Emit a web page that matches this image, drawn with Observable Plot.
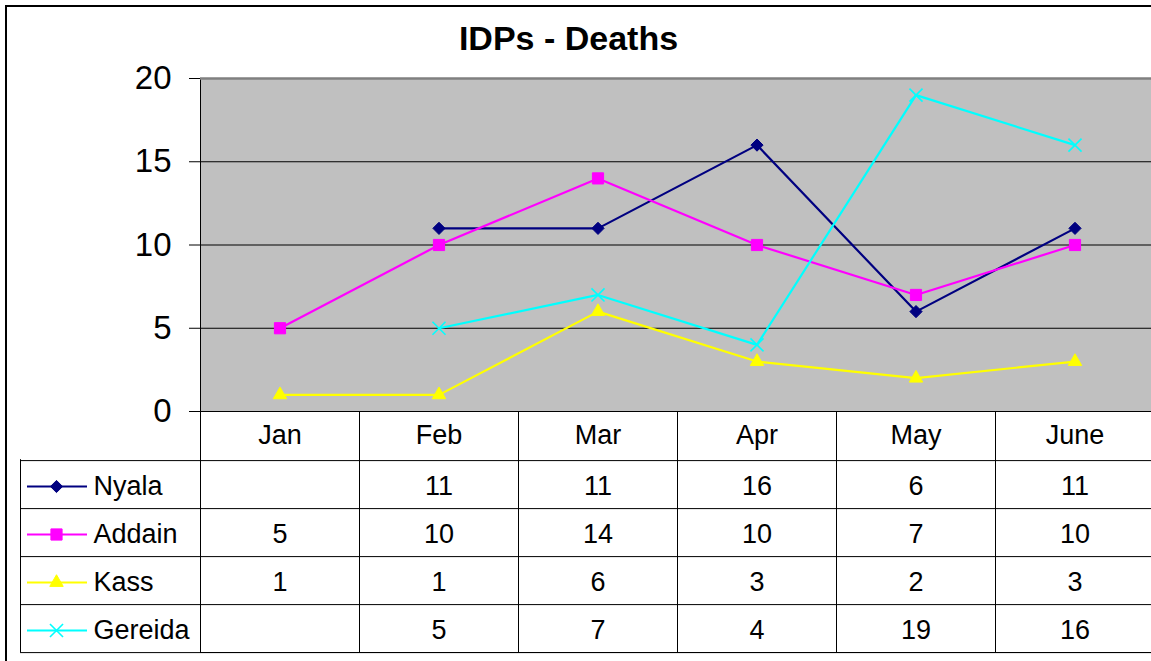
<!DOCTYPE html>
<html>
<head>
<meta charset="utf-8">
<script src="https://cdn.jsdelivr.net/npm/d3@7"></script>
<script src="https://cdn.jsdelivr.net/npm/@observablehq/plot@0.6"></script>
<style>
  html, body { margin: 0; padding: 0; background: #fff; overflow: hidden; }
  #wrap { position: relative; width: 1151px; height: 661px; overflow: hidden; font-family: "Liberation Sans", Arial, sans-serif; background: #fff; }
  #border { position: absolute; left: 5px; top: 5px; width: 1300px; height: 800px; border-left: 2px solid #000; border-top: 2px solid #000; box-sizing: border-box; }
  #title { position: absolute; left: 0; top: 21px; width: 1137px; text-align: center; font-weight: bold; font-size: 34px; line-height: 34px; color: #000; }
  #chart { position: absolute; left: 0; top: 0; }
  #table { position: absolute; left: 0; top: 411px; }
</style>
</head>
<body>
<div id="wrap">
  <div id="border"></div>
  <div id="title">IDPs - Deaths</div>
  <div id="chart"></div>
  <div id="table"></div>
</div>
<script>
// ---- data ----
const months = ["Jan", "Feb", "Mar", "Apr", "May", "June"];
const seriesNames = ["Nyala", "Addain", "Kass", "Gereida"];
const nyala   = [null, 11, 11, 16, 6, 11];
const addain  = [5, 10, 14, 10, 7, 10];
const kass    = [1, 1, 6, 3, 2, 3];
const gereida = [null, 5, 7, 4, 19, 16];
const yTicks  = [0, 5, 10, 15, 20];
const colors  = ["#000080", "#FF00FF", "#FFFF00", "#00FFFF"];
const symbols = ["diamond2", "square", "triangle", "times"];

// ---- derived table ----
const seriesValues = [nyala, addain, kass, gereida];
const rows = seriesNames.flatMap((s, si) =>
  months.map((m, mi) => ({series: s, month: m, value: seriesValues[si][mi]})));

const radii = [5.5, 6.3, 5, 6];
const FONT = "Liberation Sans, Arial, sans-serif";
const W = 1154, ML = 200;
const colW = (W - ML) / months.length;
const TFS = 27;

// ---- chart ----
const chartMarks = [
  Plot.frame({fill: "#C0C0C0", stroke: "#000"}),
  Plot.gridY(yTicks.filter(t => t > 0 && t < 20), {stroke: "#000", strokeOpacity: 1}),
  Plot.ruleY([yTicks[yTicks.length - 1]], {stroke: "#808080", strokeWidth: 2.5}),
  Plot.ruleY([0], {stroke: "#000"}),
  Plot.axisY(yTicks, {tickSize: 11, tickPadding: 18, fontSize: 33, label: null, stroke: "#000", fill: "#000"})
];
seriesNames.forEach((s, i) => {
  const data = rows.filter(d => d.series === s);
  chartMarks.push(Plot.line(data, {x: "month", y: "value", stroke: colors[i], strokeWidth: 2.2}));
  chartMarks.push(Plot.dot(data.filter(d => d.value != null), {
    x: "month", y: "value", symbol: symbols[i], r: radii[i],
    fill: symbols[i] === "times" ? "none" : colors[i],
    stroke: colors[i], strokeWidth: symbols[i] === "times" ? 1.6 : 1
  }));
});

const chart = Plot.plot({
  width: W, height: 412,
  marginTop: 78, marginBottom: 1, marginLeft: ML, marginRight: 0,
  style: {fontFamily: FONT, background: "transparent", overflow: "visible", maxWidth: "none", color: "#000"},
  x: {type: "band", domain: months, padding: 0, axis: null},
  y: {domain: [0, 20], axis: null},
  marks: chartMarks
});
document.getElementById("chart").appendChild(chart);

// ---- data table ----
const header = "";
const TH = 241, TB = 9;
const bandH = TH / (seriesNames.length + 1);
const tableMarks = [
  Plot.frame({stroke: "#000"}),
  Plot.ruleY([header, ...seriesNames], {y: d => d, dy: bandH / 2, insetLeft: -180, stroke: "#000"}),
  Plot.ruleX(months, {x: d => d, dx: -colW / 2, stroke: "#000"}),
  Plot.ruleX([months[0]], {x: d => d, dx: -colW / 2 - 180, insetTop: bandH, stroke: "#000"}),
  Plot.text(months, {x: d => d, y: () => header, text: d => d, fontSize: TFS, fill: "#000", dy: -1}),
  Plot.text(rows.filter(d => d.value != null), {x: "month", y: "series", text: d => String(d.value), fontSize: TFS, fill: "#000", dy: 2})
];
seriesNames.forEach((s, i) => {
  tableMarks.push(Plot.ruleY([s], {y: d => d, dy: 2, insetLeft: -173, insetRight: W - 87, stroke: colors[i], strokeWidth: 2}));
  tableMarks.push(Plot.dot([s], {
    y: d => d, frameAnchor: "left", dx: -144, dy: 2, symbol: symbols[i], r: radii[i],
    fill: symbols[i] === "times" ? "none" : colors[i],
    stroke: colors[i], strokeWidth: symbols[i] === "times" ? 1.6 : 1
  }));
  tableMarks.push(Plot.text([s], {y: d => d, frameAnchor: "left", dx: -107, dy: 2, textAnchor: "start", text: d => d, fontSize: TFS, fill: "#000"}));
});

const table = Plot.plot({
  width: W, height: TH + TB,
  marginTop: 0, marginBottom: TB, marginLeft: ML, marginRight: 0,
  style: {fontFamily: FONT, background: "transparent", overflow: "visible", maxWidth: "none", color: "#000"},
  x: {type: "band", domain: months, padding: 0, axis: null},
  y: {type: "band", domain: [header, ...seriesNames], padding: 0, axis: null},
  marks: tableMarks
});
document.getElementById("table").appendChild(table);
</script>
</body>
</html>
